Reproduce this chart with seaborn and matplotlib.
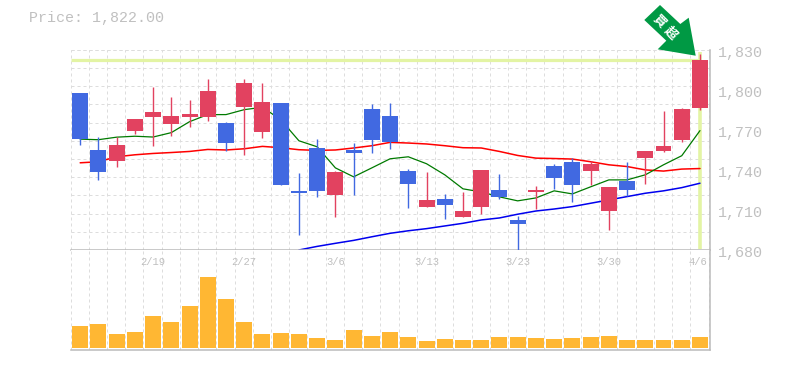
import numpy as np
import pandas as pd
import matplotlib
matplotlib.use("Agg")
import matplotlib.pyplot as plt
from matplotlib.patches import Polygon
import seaborn as sns

dates = ["2/19", "2/27", "3/6", "3/13", "3/23", "3/30", "4/6"]
date_pos = [4, 9, 14, 19, 24, 29, 34]

top = [1797.2,1755.1,1758.8,1778.4,1783.6,1780.6,1782.1,1798.7,1775.4,1804.7,1791.1,1790.4,1724.3,1756.6,1738.5,1755.1,1785.9,1780.6,1739.3,1717.5,1718.3,1709.2,1740.0,1725.0,1702.5,1725.0,1743.0,1746.1,1744.6,1727.3,1731.8,1754.3,1758.1,1785.9,1822.0]
bot = [1763.3,1738.5,1746.8,1769.4,1779.9,1774.6,1779.9,1779.9,1760.3,1787.4,1768.6,1728.8,1722.8,1724.3,1721.3,1752.8,1762.6,1761.1,1729.5,1712.2,1713.7,1704.7,1712.2,1719.8,1699.5,1723.5,1734.0,1728.8,1739.3,1709.2,1725.0,1749.1,1754.3,1762.6,1786.6]
high = [1797.2,1764.8,1764.8,1778.4,1801.7,1794.9,1792.7,1808.4,1776.1,1807.7,1805.4,1790.4,1737.8,1763.3,1739.3,1760.3,1789.6,1790.4,1740.8,1738.5,1722.0,1723.5,1740.0,1737.0,1705.5,1728.0,1744.6,1749.1,1746.8,1727.3,1746.1,1754.3,1784.4,1786.6,1826.5]
low = [1758.3,1732.5,1742.3,1767.1,1758.1,1765.6,1772.4,1776.9,1754.3,1751.3,1764.1,1728.8,1691.2,1719.8,1704.7,1721.3,1752.8,1755.8,1711.5,1712.2,1703.2,1704.7,1707.0,1718.3,1680.0,1710.7,1725.8,1716.0,1728.8,1695.0,1720.5,1729.5,1753.6,1761.1,1785.1]
rising = [0,0,1,1,1,1,1,1,0,1,1,0,0,0,1,0,0,0,0,1,0,1,1,0,0,1,0,0,1,1,0,1,1,1,1]

ma_short = [1763,1762.6,1764.5,1765.2,1764.6,1767.9,1776.1,1781.4,1781.4,1785.1,1786.9,1777.6,1761.8,1757.3,1741.5,1734.8,1741.5,1748.3,1749.8,1744.6,1736.3,1725.8,1723.5,1719.8,1716.8,1719,1724.3,1722,1727.3,1732.5,1732.5,1736.3,1743.8,1750.6,1769.4]
ma_mid = [1745.3,1746.1,1749.8,1751.3,1752.3,1753,1753.8,1755.3,1754.9,1755.8,1757.6,1756.6,1755.1,1754.6,1754.9,1756.4,1758.1,1760.6,1760.1,1759.4,1758.1,1756.6,1756.4,1753.8,1750.8,1748.8,1748.5,1748.1,1746.1,1743.8,1742.5,1740,1739.1,1740.6,1741]
ma_long = [1680,1682.7,1685,1687.2,1689.9,1692.5,1694.4,1696,1698,1700,1702.5,1704,1706.8,1709.2,1710.7,1712.5,1715,1717.5,1720,1722.5,1724.3,1726.7,1730]
ma_long_start = 12

volume = [21.7,23.7,13.7,15.7,31.7,25.7,41.7,70.7,48.7,25.7,13.7,14.7,13.7,9.7,7.7,17.7,11.7,15.7,10.7,6.7,8.7,7.7,7.7,10.7,10.7,9.7,8.7,9.7,10.7,11.7,7.7,7.7,7.7,7.7,10.7]

price_label = "Price: 1,822.00"
last_price = 1822.0
y_labels = ["1,830", "1,800", "1,770", "1,740", "1,710", "1,680"]
y_values = [1830, 1800, 1770, 1740, 1710, 1680]

W, H = 785, 370
GRID = "#dddddd"; TXT = "#c0c0c0"; AX = "#bbbbbb"
UP = "#E24260"; DOWN = "#4169E1"; LIME = "#E3F4A4"; VOL = "#FFB733"; ARROW = "#009944"

sns.set_theme(style="white")
plt.rcParams["font.family"] = ["Liberation Mono", "DejaVu Sans"]
fig = plt.figure(figsize=(W / 100, H / 100), dpi=100, facecolor="white")

L, R, T, M, B = 70.5, 710, 49.7, 250, 350
ax = fig.add_axes([L / W, 1 - M / H, (R - L) / W, (M - T) / H])
av = fig.add_axes([L / W, 1 - B / H, (R - L) / W, (B - M) / H])

n = len(top)
idx = np.arange(n)
xlim = (-0.53, 34.55)
vticks = np.arange(-0.53, 34.6, 1.0)
dash = (0, (3, 3))
for a in (ax, av):
    a.set_xlim(*xlim)
    a.set_xticks(vticks)
    a.grid(axis="x", color=GRID, lw=0.72, ls=dash)
    a.tick_params(length=0, labelbottom=False, labelleft=False)
    a.set_axisbelow(True)
    for s in a.spines.values():
        s.set_visible(False)
    for side in ("right", "bottom"):
        a.spines[side].set_visible(True)
        a.spines[side].set_color(AX)
        a.spines[side].set_linewidth(1.1)

ax.set_ylim(1680, 1830)
ax.set_yticks(np.linspace(1680, 1830, 12))
ax.grid(axis="y", color=GRID, lw=0.72, ls=dash)
ax.axhline(1830, color=GRID, lw=0.72, ls=dash, clip_on=False, zorder=1)

# highlight
ax.hlines(last_price, xlim[0], n - 1, color=LIME, lw=2.3, zorder=1.5)
ax.vlines(n - 1, 1681, 1828, color=LIME, lw=2.6, zorder=1.5)

# moving averages
sns.lineplot(x=idx, y=ma_mid, ax=ax, color="#ff0000", lw=1.1, zorder=2, legend=False, errorbar=None)
sns.lineplot(x=idx, y=ma_short, ax=ax, color="#007a00", lw=0.9, zorder=2, legend=False, errorbar=None)
sns.lineplot(x=idx[ma_long_start:], y=ma_long, ax=ax, color="#0000ee", lw=1.1, zorder=2, legend=False, errorbar=None)

# candles
up = np.array(rising, dtype=bool)
colors = np.where(up, UP, DOWN)
ax.vlines(idx, low, high, colors=colors, lw=1.0, zorder=3)
ax.bar(idx, np.array(top) - np.array(bot), bottom=bot, width=0.875, color=colors, lw=0, zorder=4)

# y labels and date labels
for lab, v in zip(y_labels, y_values):
    ax.text(1.013, v - 2.3, lab, transform=ax.get_yaxis_transform(), color=TXT, fontsize=10.8,
            va="center", ha="left", clip_on=False)
for lab, p in zip(dates, date_pos):
    av.text(p - (0.1 if lab == "4/6" else 0.0), 86, lab, color=TXT, fontsize=7.6, ha="center", va="center", zorder=1)

# volume
vol_df = pd.DataFrame({"i": idx, "v": volume})
av.bar(vol_df["i"], vol_df["v"], width=0.875, color=VOL, lw=0, zorder=3)
av.set_ylim(-2.2, 97.8)

fig.text(29 / W, 1 - 18 / H, price_label, color=TXT, fontsize=10.8, va="center", ha="left")

# callout arrow
pts = [(644.3, 20), (660, 5), (680.3, 24), (688.7, 17.7), (695.7, 55.7), (657.7, 49.3), (666.3, 40.7)]
fig.add_artist(Polygon([(x / W, 1 - y / H) for x, y in pts], closed=True, transform=fig.transFigure,
                       facecolor=ARROW, edgecolor="none", zorder=6))
cjk = ["Noto Sans CJK TC", "DejaVu Sans"]
fig.text(659.5 / W, 1 - 21.5 / H, "買", color="white", fontsize=9, rotation=-45, ha="center", va="center",
         family=cjk, fontweight="bold", zorder=7)
fig.text(671 / W, 1 - 33 / H, "超", color="white", fontsize=9, rotation=-45, ha="center", va="center",
         family=cjk, fontweight="bold", zorder=7)

fig.savefig("out.png", dpi=100, facecolor="white")
